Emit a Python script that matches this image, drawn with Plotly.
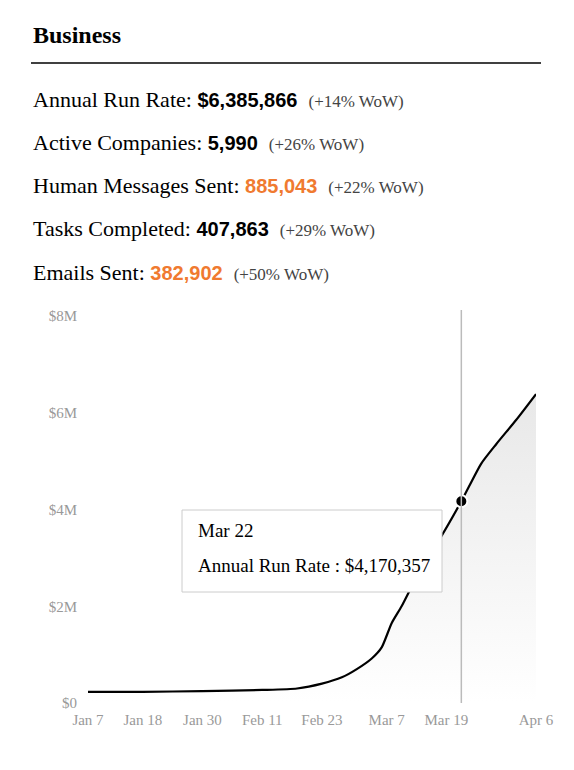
import plotly.graph_objects as go

dates = ["2024-01-07","2024-01-18","2024-01-30","2024-02-11","2024-02-18","2024-02-23","2024-02-27",
         "2024-03-01","2024-03-04","2024-03-06","2024-03-08","2024-03-10","2024-03-14","2024-03-18",
         "2024-03-22","2024-03-26","2024-03-29","2024-04-02","2024-04-06"]
arr = [230000,232000,245000,270000,300000,400000,530000,
       700000,920000,1150000,1650000,2000000,2800000,3450000,
       4170357,4950000,5350000,5850000,6385866]
tick_dates = ["2024-01-07","2024-01-18","2024-01-30","2024-02-11","2024-02-23","2024-03-07","2024-03-19","2024-04-06"]
tick_labels = ["Jan 7","Jan 18","Jan 30","Feb 11","Feb 23","Mar 7","Mar 19","Apr 6"]
y_ticks = [0,2000000,4000000,6000000,8000000]
y_labels = ["$0","$2M","$4M","$6M","$8M"]
metrics = [("Annual Run Rate","$6,385,866","+14%",False),
           ("Active Companies","5,990","+26%",False),
           ("Human Messages Sent","885,043","+22%",True),
           ("Tasks Completed","407,863","+29%",False),
           ("Emails Sent","382,902","+50%",True)]
hover_date, hover_val, hover_label = "2024-03-22", 4170357, "Mar 22"

OFF = 8  # page body offset
W,H = 574,770
L,R,T,B = 88-OFF,38+OFF,316-OFF,67+OFF
ph = H-T-B
pw = W-L-R
def py(pix): return (H-B-(pix-OFF))/ph
def px(pix): return ((pix-OFF)-L)/pw

fig = go.Figure()
fig.add_trace(go.Scatter(x=dates,y=arr,mode="lines",line=dict(color="black",width=2.2,shape="spline",smoothing=0.6),
    fill="tozeroy",fillgradient=dict(type="vertical",colorscale=[[0,"rgba(255,255,255,1)"],[1,"rgba(232,232,232,1)"]]),
    hoverinfo="skip"))
fig.add_shape(type="line",x0=hover_date,x1=hover_date,yref="paper",y0=0,y1=py(310),line=dict(color="#bbbbbb",width=1.5))
fig.add_trace(go.Scatter(x=[hover_date],y=[hover_val],mode="markers",marker=dict(color="black",size=12,line=dict(color="white",width=2))))

ann=[]
ann.append(dict(text="<b>Business</b>",x=px(31),y=py(35),font=dict(family="Liberation Serif",size=24,color="black")))
for i,(lab,val,wow,orange) in enumerate(metrics):
    c = "#F07A30" if orange else "black"
    t = (f"{lab}: <span style='font-family:Liberation Sans;font-weight:bold;color:{c};font-size:20px'><b>{val}</b></span>"
         f"  <span style='font-size:17px;color:#444'>({wow} WoW)</span>")
    ann.append(dict(text=t,x=px(31),y=py(99+i*43.3),font=dict(family="Liberation Serif",size=22,color="black")))
ann.append(dict(text=hover_label,x=px(196),y=py(530),font=dict(family="Liberation Serif",size=19,color="black")))
ann.append(dict(text=f"Annual Run Rate : ${hover_val:,}",x=px(196),y=py(565),font=dict(family="Liberation Serif",size=19,color="black")))
for a in ann:
    a.update(xref="paper",yref="paper",xanchor="left",yanchor="middle",showarrow=False)
fig.update_layout(annotations=ann)
fig.add_shape(type="line",xref="paper",yref="paper",x0=px(31),x1=px(541),y0=py(63),y1=py(63),line=dict(color="black",width=1.3))
fig.add_shape(type="rect",xref="paper",yref="paper",x0=px(182),x1=px(442),y0=py(510),y1=py(592),
    line=dict(color="#cccccc",width=1),fillcolor="white",layer="above")

fig.update_layout(width=W,height=H,margin=dict(l=L,r=R,t=T,b=B),paper_bgcolor="white",plot_bgcolor="white",
    showlegend=False,
    xaxis=dict(type="date",range=["2024-01-07","2024-04-06"],tickvals=tick_dates,ticktext=tick_labels,showgrid=False,
               zeroline=False,showline=False,ticks="",ticklabelstandoff=6,
               tickfont=dict(family="Liberation Serif",size=15,color="#999999")),
    yaxis=dict(range=[0,8000000],tickvals=y_ticks,ticktext=y_labels,showgrid=False,zeroline=False,showline=False,
               ticks="",ticklabelstandoff=10,tickfont=dict(family="Liberation Serif",size=15,color="#999999")))
fig.write_html("out.html")
